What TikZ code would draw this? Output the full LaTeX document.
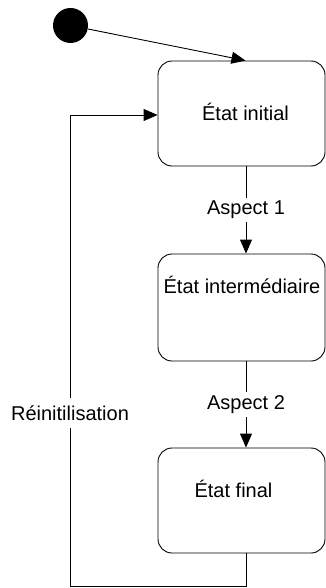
\documentclass[tikz,border=0pt]{standalone}
\usepackage{fontspec}
\setmainfont{Liberation Sans}
\usetikzlibrary{arrows.meta}
\begin{document}
\begin{tikzpicture}[x=1pt,y=-1pt,
  state/.style={draw, line width=0.9pt, rounded corners=14pt, minimum width=167pt, inner sep=0pt},
  conn/.style={line width=0.9pt, -{Triangle[length=14pt,width=12pt]}},
  lab/.style={fill=white, font=\fontsize{20}{24}\selectfont},
  txt/.style={anchor=base, font=\fontsize{20}{24}\selectfont, inner sep=0pt}]
\useasboundingbox (0,0) rectangle (326,588);
\node[state, minimum height=105pt] (s1) at (241.5,113.5) {};
\node[state, minimum height=107pt] (s2) at (241.5,307.5) {};
\node[state, minimum height=105pt] (s3) at (241.5,500.5) {};
\node[txt] (t1) at (245.5,121) {État initial};
\node[txt] (t2) at (242,293) {État intermédiaire};
\node[txt] (t3) at (233.5,497) {État final};
\node[circle, fill=black, minimum size=35pt, inner sep=0pt] (init) at (70.5,25.5) {};
\draw[conn] (init) -- (s1.north -| t1);
\coordinate (cx) at (246,0);
\draw[conn] (s1.south -| cx) -- node[lab]{Aspect 1} (s2.north -| cx);
\draw[conn] (s2.south -| cx) -- node[lab]{Aspect 2} (s3.north -| cx);
\coordinate (b1) at (246,586.5);
\coordinate (b2) at (70,586.5);
\coordinate (b3) at (70,115);
\draw[conn] (s3.south -| cx) -- (b1) -- (b2) -- node[lab, pos=0.368, inner ysep=8pt]{Réinitilisation} (b3) -- (s1.west |- b3);
\end{tikzpicture}
\end{document}
